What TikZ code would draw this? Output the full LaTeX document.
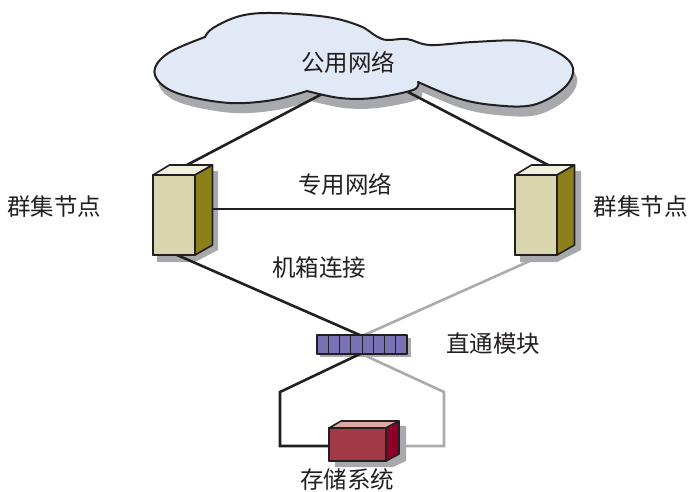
\documentclass[tikz,border=0pt]{standalone}
\usepackage{fontspec}
\setmainfont{Noto Sans CJK SC}
\usetikzlibrary{calc}
\definecolor{shadowgray}{HTML}{A7A9AC}
\definecolor{cloudfill}{HTML}{E1E8F6}
\definecolor{srvfront}{HTML}{D9D5AC}
\definecolor{srvtop}{HTML}{F1EFE0}
\definecolor{srvside}{HTML}{8B8019}
\definecolor{stofront}{HTML}{A23A45}
\definecolor{stotop}{HTML}{DFA8A5}
\definecolor{stoside}{HTML}{8F0028}
\definecolor{modfill}{HTML}{7A70B4}
\definecolor{linkgray}{HTML}{ABABAB}
\definecolor{ink}{HTML}{231F20}
\tikzset{
  x=1pt,y=-1pt,
  label text/.style={font=\fontsize{23.5}{25}\selectfont,text=ink,inner sep=0pt},
  outline/.style={draw=ink,line width=1.6pt,line join=round},
  blacklink/.style={draw=ink,line width=2.6pt,line join=miter},
  graylink/.style={draw=linkgray,line width=2.6pt,line join=miter},
  shade only/.style={fill=shadowgray,draw=none},
  srvbox/.style={outline,fill=srvfront,minimum width=42pt,minimum height=80pt,inner sep=0pt,outer sep=0pt},
  stobox/.style={outline,fill=stofront,minimum width=57pt,minimum height=33pt,inner sep=0pt,outer sep=0pt},
  modbox/.style={outline,fill=modfill,minimum width=90pt,minimum height=19pt,inner sep=0pt,outer sep=0pt},
}
\newcommand{\cloudshape}{
  plot[smooth,tension=0.6] coordinates {(205,37) (213,28) (240,16) (273,13) (327,17) (360,26) (376,36) (387,40) (407,39) (430,45) (473,42) (523,41) (557,52) (573,68) (564,88) (533,105) (493,105) (457,98) (418,82)}
  -- plot[smooth,tension=0.6] coordinates {(418,82) (413,90) (373,98) (340,98) (307,91)}
  -- plot[smooth,tension=0.6] coordinates {(307,91) (273,100) (230,103) (183,95) (160,83) (155,68) (170,52) (205,37)} -- cycle}
\begin{document}
\begin{tikzpicture}
\useasboundingbox (0,0) rectangle (688,491);

% coordinates for connector ends
\coordinate (cloudL) at (322,94);
\coordinate (cloudR) at (408,92);
\coordinate (srvLtop) at (185,166);
\coordinate (srvRtop) at (550,166);
\coordinate (srvLbot) at (177,255);
\coordinate (srvRbot) at (532,260);
\coordinate (modTop) at (362,336);
\coordinate (modBot) at (362,353);
\coordinate (modBotG) at (366,356);
\coordinate (bendL) at (280,392);
\coordinate (cornerL) at (280,446);
\coordinate (bendR) at (444,392);
\coordinate (cornerR) at (444,446);

% shadows
\fill[shade only,shift={(4,10)}] \cloudshape;
\fill[shade only] (169,171) -- (218,171) -- (218,250) -- (195,262) -- (157,262) -- (157,255) -- cycle;
\fill[shade only] (532,171) -- (581,171) -- (581,250) -- (557,262) -- (520,262) -- (520,255) -- cycle;
\fill[shade only] (345,426) -- (406,426) -- (406,461) -- (393,467) -- (335,467) -- (335,455) -- cycle;
\fill[shade only] (320,338) rectangle (411,357);

% servers, storage and module
\node[srvbox] (srvL) at (174,215) {};
\node[srvbox] (srvR) at (536,215) {};
\node[stobox] (sto) at (357.5,444.5) {};
\coordinate (stoE) at (405,446);

% connectors
\draw[blacklink] (cloudL) -- (srvLtop);
\draw[blacklink] (cloudR) -- (srvRtop);
\draw[blacklink] (212,209) coordinate (srvLside) -- (srvR.west |- srvLside);
\draw[blacklink] (srvLbot) -- (modTop);
\draw[graylink] (srvRbot) -- (modTop);
\draw[graylink] (modBotG) -- (bendR) -- (cornerR) -- (stoE);
\draw[blacklink] (modBot) -- (bendL) -- (cornerL) -- (sto.west |- cornerL);

% cloud
\draw[outline,line width=2pt,fill=cloudfill] \cloudshape;
\node[label text] (pub) at (348,62) {公用网络};

% server 3D faces
\foreach \s/\dx in {srvL/0,srvR/0}{
  \draw[outline,fill=srvtop] (\s.north west) -- ++(16.5,-10) -- ++(43,0) -- ($(\s.north east)$) -- cycle;
  \draw[outline,fill=srvside] (\s.north east) -- ++(17.5,-10) -- ++(0,80) -- (\s.south east) -- cycle;
  \draw[outline,fill=srvfront] (\s.north west) rectangle (\s.south east);
}

% storage 3D faces
\draw[outline,fill=stotop] (sto.north west) -- ++(12,-7) -- ++(58,0) -- (sto.north east) -- cycle;
\draw[outline,fill=stoside] (sto.north east) -- ++(13,-7) -- ++(0,33) -- (sto.south east) -- cycle;
\draw[outline,fill=stofront] (sto.north west) rectangle (sto.south east);

% pass-through module
\node[modbox] (mod) at (362,344.5) {};
\foreach \i in {1,...,7}{
  \draw[draw=ink,line width=1pt] ($(mod.north west)+(\i*11.25,0)$) -- ($(mod.south west)+(\i*11.25,0)$);
}

% labels
\node[label text] (lblL) at (54.5,207) {群集节点};
\node[label text] (lblR) at (640.5,207) {群集节点};
\node[label text] (lblP) at (345,184) {专用网络};
\node[label text] (lblC) at (319,268) {机箱连接};
\node[label text] (lblM) at (493,344) {直通模块};
\node[label text] (lblS) at (347,480) {存储系统};
\end{tikzpicture}
\end{document}
